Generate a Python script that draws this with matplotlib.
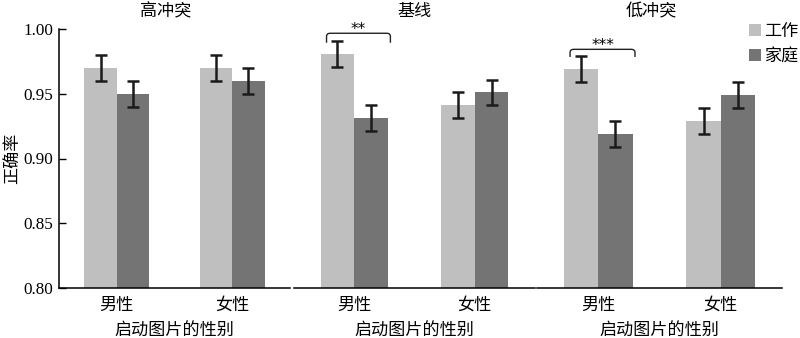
import matplotlib
matplotlib.use("Agg")
import matplotlib.pyplot as plt
from matplotlib.path import Path
from matplotlib.patches import PathPatch, Patch

plt.rcParams['font.family'] = ['Liberation Serif', 'Noto Sans CJK SC']

# Data
panels = ['高冲突', '基线', '低冲突']
genders = ['男性', '女性']
series = ['工作', '家庭']
work_mean = [[0.970, 0.970], [0.981, 0.941], [0.969, 0.929]]
family_mean = [[0.950, 0.960], [0.931, 0.951], [0.919, 0.949]]
work_err = [[0.010, 0.010], [0.010, 0.010], [0.010, 0.010]]
family_err = [[0.010, 0.010], [0.010, 0.010], [0.010, 0.010]]
# significance markers: (panel index, label, bracket top, hook bottom, star y)
sig = [(1, '**', 0.9967, 0.9894, 0.9995), (2, '***', 0.9843, 0.9784, 0.9872)]

colors = ['#bfbfbf', '#747474']
W, H = 800, 338
fig = plt.figure(figsize=(8, 3.38), dpi=100)

ax_px = [(59, 290), (294, 535), (537, 782)]
title_x = [166, 414.5, 651]
top_px, bot_px = 29, 288
bw = 0.28
FS = 12.3

axes = []
for i, (l, r) in enumerate(ax_px):
    ax = fig.add_axes([l / W, 1 - bot_px / H, (r - l) / W, (bot_px - top_px) / H])
    axes.append(ax)
    x = [0, 1]
    ax.bar([v - bw / 2 for v in x], work_mean[i], width=bw, color=colors[0],
           edgecolor='none', zorder=2)
    ax.bar([v + bw / 2 for v in x], family_mean[i], width=bw, color=colors[1],
           edgecolor='none', zorder=2)
    ax.errorbar([v - bw / 2 for v in x], work_mean[i], yerr=work_err[i], fmt='none',
                ecolor='#1a1a1a', elinewidth=1.8, capsize=4.3, capthick=1.8, zorder=3)
    ax.errorbar([v + bw / 2 for v in x], family_mean[i], yerr=family_err[i], fmt='none',
                ecolor='#1a1a1a', elinewidth=1.8, capsize=4.3, capthick=1.8, zorder=3)
    ax.set_xlim(-0.5, 1.5)
    ax.set_ylim(0.80, 1.00)
    ax.set_xticks(x)
    ax.set_xticklabels(genders, fontsize=FS)
    ax.tick_params(axis='x', length=0, pad=7)
    ax.set_xlabel('启动图片的性别', fontsize=FS, labelpad=7)
    for s in ['top', 'right']:
        ax.spines[s].set_visible(False)
    ax.spines['bottom'].set_linewidth(1.1)
    if i == 0:
        ax.set_yticks([0.80, 0.85, 0.90, 0.95, 1.00])
        ax.set_yticklabels(['0.80', '0.85', '0.90', '0.95', '1.00'], fontsize=FS,
                           family='Liberation Serif')
        ax.tick_params(axis='y', direction='in', length=5, width=1, pad=4)
        ax.spines['left'].set_linewidth(1.1)
        ax.set_ylabel('正确率', fontsize=FS, labelpad=1)
    else:
        ax.spines['left'].set_visible(False)
        ax.set_yticks([])
    fig.text(title_x[i] / W, 1 - 12 / H, panels[i], fontsize=FS, ha='center', va='center')

# significance brackets
for pi, lab, ytop, ylow, ystar in sig:
    ax = axes[pi]
    x0, x1 = -0.23, 0.30
    rx, ry = 0.03, 0.0025
    verts = [(x0, ylow), (x0, ytop - ry), (x0, ytop), (x0 + rx, ytop),
             (x1 - rx, ytop), (x1, ytop), (x1, ytop - ry), (x1, ylow)]
    codes = [Path.MOVETO, Path.LINETO, Path.CURVE3, Path.CURVE3,
             Path.LINETO, Path.CURVE3, Path.CURVE3, Path.LINETO]
    ax.add_patch(PathPatch(Path(verts, codes), fill=False, lw=1.0,
                           edgecolor='#222222', clip_on=False, zorder=4))
    ax.text((x0 + x1) / 2, ystar, lab, ha='center', va='center', fontsize=11,
            family='DejaVu Sans', clip_on=False)

handles = [Patch(facecolor=c, edgecolor='none') for c in colors]
fig.legend(handles, series, loc='upper left', bbox_to_anchor=(749 / W, 1 - 24 / H),
           frameon=False, fontsize=FS, handlelength=0.7, handleheight=0.7,
           handletextpad=0.2, labelspacing=0.55, borderaxespad=0, borderpad=0)

fig.savefig('out.png', dpi=100)
